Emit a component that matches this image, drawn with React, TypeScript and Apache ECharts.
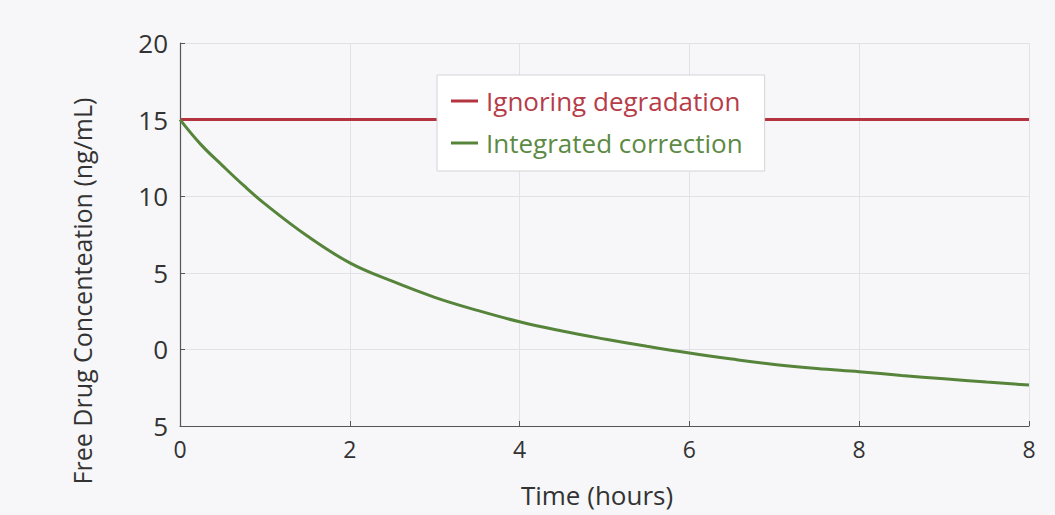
import React, { useEffect, useRef } from "react";
import * as echarts from "echarts";

const timeHours = [0, 0.25, 0.5, 0.75, 1, 1.5, 2, 2.5, 3, 3.5, 4, 4.5, 5, 5.5, 6, 6.5, 7, 7.5, 8, 8.5, 9, 9.5, 10];
const integratedCorrection = [15, 13.35, 12.0, 10.7, 9.5, 7.4, 5.65, 4.45, 3.4, 2.55, 1.8, 1.2, 0.68, 0.2, -0.24, -0.63, -0.98, -1.25, -1.46, -1.7, -1.92, -2.13, -2.33];
const ignoringDegradation = [15, 15, 15, 15, 15, 15, 15, 15, 15, 15, 15, 15, 15, 15, 15, 15, 15, 15, 15, 15, 15, 15, 15];
const yTickLabels = ["5", "0", "5", "10", "15", "20"];
const xTickLabels = ["0", "2", "4", "6", "8", "8"];
const seriesNames = ["Ignoring degradation", "Integrated correction"];

const RED = "#b3333e";
const GREEN = "#56843a";
const FONT = "'Open Sans', 'Noto Sans', sans-serif";

export default function App() {
  const ref = useRef<HTMLDivElement>(null);
  useEffect(() => {
    if (!ref.current) return;
    const chart = echarts.init(ref.current, null, { renderer: "svg" });
    chart.setOption({
      animation: false,
      backgroundColor: "#f7f7f9",
      textStyle: { fontFamily: FONT },
      grid: { left: 180, right: 26, top: 43, bottom: 89 },
      legend: {
        orient: "vertical",
        left: 437,
        top: 75,
        backgroundColor: "#ffffff",
        borderColor: "#d4d4d8",
        borderWidth: 1,
        borderRadius: 0,
        padding: [13, 22, 15, 14],
        itemGap: 16,
        itemWidth: 27,
        itemHeight: 3,
        icon: "rect",
        data: [
          { name: seriesNames[0], textStyle: { color: "#b63c4a" } },
          { name: seriesNames[1], textStyle: { color: "#5c8a45" } },
        ],
        textStyle: { fontSize: 26, fontFamily: FONT, padding: [0, 0, 0, 3] },
      },
      xAxis: {
        type: "value",
        min: 0,
        max: 10,
        interval: 2,
        axisLine: { show: true, onZero: false, lineStyle: { color: "#555", width: 1.2 } },
        axisTick: { show: true, inside: true, length: 5, lineStyle: { color: "#555" } },
        axisLabel: {
          color: "#333",
          fontSize: 23,
          margin: 11,
          fontFamily: FONT,
          formatter: (v: number) => xTickLabels[Math.round(v / 2)] ?? "",
        },
        splitLine: { show: true, lineStyle: { color: "#e2e2e6", width: 1 } },
      },
      yAxis: {
        type: "value",
        min: -5,
        max: 20,
        interval: 5,
        axisLine: { show: true, onZero: false, lineStyle: { color: "#555", width: 1.2 } },
        axisTick: { show: true, inside: true, length: 5, lineStyle: { color: "#555" } },
        axisLabel: {
          color: "#333",
          fontSize: 26,
          margin: 12,
          fontFamily: FONT,
          formatter: (v: number) => yTickLabels[Math.round((v + 5) / 5)] ?? "",
        },
        splitLine: { show: true, lineStyle: { color: "#e2e2e6", width: 1 } },
      },
      graphic: [
        {
          type: "text",
          x: 82,
          y: 291,
          rotation: Math.PI / 2,
          style: {
            text: "Free Drug Concenteation (ng/mL)",
            fontSize: 25,
            fontFamily: FONT,
            fill: "#333",
            textAlign: "center",
            textVerticalAlign: "middle",
          },
        },
        {
          type: "text",
          x: 597,
          y: 495,
          style: {
            text: "Time (hours)",
            fontSize: 26,
            fontFamily: FONT,
            fill: "#333",
            textAlign: "center",
            textVerticalAlign: "middle",
          },
        },
      ],
      series: [
        {
          name: seriesNames[0],
          type: "line",
          data: timeHours.map((t, i) => [t, ignoringDegradation[i]]),
          showSymbol: false,
          lineStyle: { color: RED, width: 3 },
          itemStyle: { color: RED },
        },
        {
          name: seriesNames[1],
          type: "line",
          smooth: 0.4,
          data: timeHours.map((t, i) => [t, integratedCorrection[i]]),
          showSymbol: false,
          lineStyle: { color: GREEN, width: 3 },
          itemStyle: { color: GREEN },
        },
      ],
    });
    return () => chart.dispose();
  }, []);
  return (
    <div
      ref={ref}
      style={{ position: "fixed", left: 0, top: 0, width: 1055, height: 515 }}
    />
  );
}
